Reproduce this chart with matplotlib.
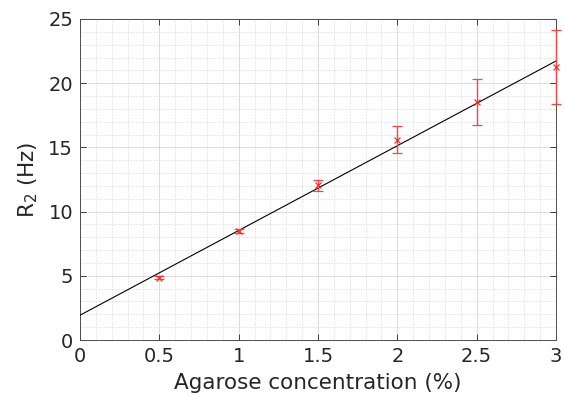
import matplotlib
matplotlib.use("Agg")
import matplotlib.pyplot as plt
import numpy as np
from matplotlib.ticker import MultipleLocator

# Measured relaxation rate vs agarose concentration
concentration = [0.5, 1.0, 1.5, 2.0, 2.5, 3.0]
r2_mean = [4.85, 8.5, 12.05, 15.6, 18.55, 21.25]
r2_err = [0.1, 0.15, 0.45, 1.05, 1.8, 2.9]

# Linear fit R2 = intercept + slope * c
fit_intercept = 1.93
fit_slope = 6.6

x_ticks = [0, 0.5, 1, 1.5, 2, 2.5, 3]
y_ticks = [0, 5, 10, 15, 20, 25]

plt.rcParams['font.family'] = ['DejaVu Sans']
plt.rcParams['mathtext.fontset'] = 'dejavusans'
text_col = '#262626'
axis_col = '#262626'

fig = plt.figure(figsize=(5.65, 3.96), dpi=100)
ax = fig.add_axes([80 / 565, 56 / 396, 476 / 565, 321 / 396])

ax.set_xlim(0, 3)
ax.set_ylim(0, 25)

# grid: solid major, dashed minor
ax.xaxis.set_major_locator(MultipleLocator(0.5))
ax.yaxis.set_major_locator(MultipleLocator(5))
ax.xaxis.set_minor_locator(MultipleLocator(0.1))
ax.yaxis.set_minor_locator(MultipleLocator(1))
ax.grid(which='major', color='#d6d6d6', linewidth=0.6, linestyle='-')
ax.grid(which='minor', color='#e0e0e0', linewidth=0.6, linestyle=(0, (2, 1.5)))
ax.set_axisbelow(True)

xf = np.array([0.0, 3.0])
ax.plot(xf, fit_intercept + fit_slope * xf, color='black', linewidth=0.8, zorder=3)

ax.errorbar(concentration, r2_mean, yerr=r2_err, fmt='x', color='#ff2a2a',
            ecolor='#ff4040', elinewidth=1.0, capsize=3.5, capthick=1.0,
            markersize=5, markeredgewidth=0.9, clip_on=False, zorder=4)

ax.set_xticks(x_ticks)
ax.set_xticklabels(['0', '0.5', '1', '1.5', '2', '2.5', '3'])
ax.set_yticks(y_ticks)

ax.tick_params(which='major', direction='in', length=4.5, width=0.6,
               top=True, right=True, colors=axis_col, labelcolor=text_col,
               labelsize=14, pad=5)
ax.tick_params(which='minor', length=0, top=True, right=True)

for s in ax.spines.values():
    s.set_color('#4d4d4d')
    s.set_linewidth(0.7)

ax.set_xlabel('Agarose concentration (%)', fontsize=15.5, color=text_col, labelpad=5)
ax.set_ylabel(r'R$_{\mathregular{2}}$ (Hz)', fontsize=15.5, color=text_col, labelpad=6)

fig.savefig('out.png', dpi=100)
